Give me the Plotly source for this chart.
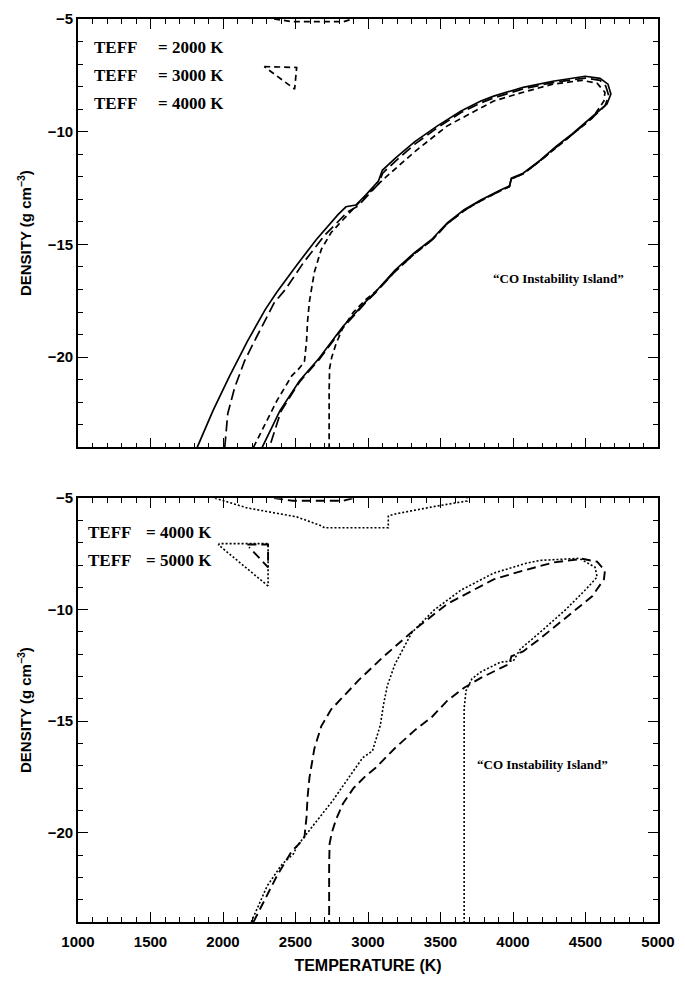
import plotly.graph_objects as go
from plotly.subplots import make_subplots

# ---------------- data (temperature K, log density g cm^-3) ----------------
T2000 = [1822,1931,2046,2168,2291,2372,2508,2644,2793,2848,2916,2984,3072,3099,3187,3323,3479,3642,3778,3867,4070,4274,4498,4600,4655,4675,4648,4546,4410,4295,4186,4070,3989,3975,3914,3778,3663,3547,3439,3323,3187,3051,2984,2827,2664,2528,2393,2270]
D2000 = [-24.0,-22.37,-20.83,-19.30,-17.89,-17.11,-15.92,-14.78,-13.68,-13.33,-13.25,-12.81,-12.19,-11.71,-11.18,-10.44,-9.74,-9.08,-8.64,-8.42,-8.03,-7.76,-7.54,-7.63,-7.89,-8.33,-8.77,-9.34,-10.09,-10.66,-11.27,-11.84,-12.06,-12.41,-12.59,-13.03,-13.46,-14.04,-14.78,-15.35,-16.14,-17.11,-17.54,-18.64,-20.04,-21.05,-22.37,-24.0]

T3000 = [2012,2020,2033,2080,2148,2216,2284,2352,2430,2556,2700,2861,2930,2990,3075,3100,3190,3323,3479,3642,3778,3867,4070,4274,4498,4600,4640,4660,4635,4546,4410,4295,4186,4070,3989,3975,3914,3778,3663,3547,3439,3323,3187,3051,2984,2827,2664,2528,2400,2320]
D3000 = [-24.0,-23.3,-22.5,-21.36,-20.18,-19.3,-18.42,-17.6,-17.0,-15.8,-14.6,-13.55,-13.3,-12.9,-12.3,-11.85,-11.3,-10.55,-9.82,-9.15,-8.72,-8.5,-8.1,-7.82,-7.62,-7.72,-7.98,-8.4,-8.85,-9.38,-10.12,-10.7,-11.3,-11.87,-12.09,-12.44,-12.62,-13.06,-13.5,-14.08,-14.82,-15.4,-16.2,-17.15,-17.58,-18.7,-20.1,-21.1,-22.4,-24.0]

T4000 = [2210,2270,2372,2474,2528,2562,2576,2583,2596,2630,2678,2746,2827,2936,3099,3323,3547,3731,3867,4070,4274,4478,4580,4634,4627,4546,4410,4295,4186,4070,3989,3975,3914,3778,3663,3547,3439,3323,3187,3051,2984,2900,2827,2780,2750,2735,2732,2732]
D4000 = [-24.0,-23.25,-21.93,-20.83,-20.48,-20.18,-19.3,-18.42,-17.54,-16.23,-15.22,-14.47,-13.9,-13.16,-12.15,-10.88,-9.74,-9.12,-8.64,-8.25,-7.89,-7.72,-7.85,-8.25,-8.64,-9.4,-10.12,-10.7,-11.3,-11.87,-12.09,-12.44,-12.62,-13.06,-13.5,-14.08,-14.82,-15.4,-16.2,-17.1,-17.45,-18.0,-18.7,-19.4,-20.0,-20.5,-21.5,-24.0]
T4000_top = [2352,2480,2830,2895]
D4000_top = [-5.0,-5.12,-5.12,-5.0]
T4000_tri = [2284,2508,2494,2284]
D4000_tri = [-7.11,-7.15,-8.11,-7.11]
# lower panel 4000 K small islands
T4000b_top = [2352,2480,2830,2895]
D4000b_top = [-5.0,-5.12,-5.12,-5.0]
T4000b_tri = [2168,2311,2311,2180]
D4000b_tri = [-7.08,-7.08,-8.1,-7.2]

T5000 = [2195,2304,2406,2488,2508,2644,2759,2868,2963,3031,3085,3106,3133,3187,3303,3459,3642,3867,4091,4186,4458,4566,4580,4498,4363,4186,4050,4002,3914,3778,3717,3676,3663,3663]
D5000 = [-24.0,-22.39,-21.42,-20.93,-20.62,-19.51,-18.54,-17.52,-16.64,-16.33,-15.18,-14.29,-13.41,-12.43,-11.02,-10.0,-9.12,-8.36,-7.92,-7.79,-7.70,-8.10,-8.54,-9.12,-10.0,-11.02,-11.77,-12.30,-12.35,-12.79,-13.10,-13.63,-14.42,-24.0]
T5000_top = [1944,2168,2508,2678,2700,3140,3140,3187,3479,3683,3683]
D5000_top = [-5.0,-5.44,-5.84,-6.24,-6.33,-6.33,-5.8,-5.71,-5.35,-5.13,-5.0]
T5000_tri = [2311,1970,1975,2311,2311]
D5000_tri = [-8.94,-7.1,-7.04,-7.04,-8.94]

legend_top = ["2000 K", "3000 K", "4000 K"]
legend_bot = ["4000 K", "5000 K"]
island_label = "\u201cCO Instability Island\u201d"

# ---------------- figure ----------------
fig = make_subplots(rows=2, cols=1, vertical_spacing=0.0)

def add(x, y, dash, width, row):
    fig.add_trace(go.Scatter(x=x, y=y, mode="lines",
                             line=dict(color="black", width=width, dash=dash),
                             showlegend=False, hoverinfo="skip"), row=row, col=1)

SOLID = "solid"
LONG = "11px,5px"
SHORT = "6px,4px"
MED = "9px,5px"
DOT = "2px,2px"

add(T2000, D2000, SOLID, 1.7, 1)
add(T3000, D3000, LONG, 1.7, 1)
add(T4000, D4000, SHORT, 1.7, 1)
add(T4000_top, D4000_top, SHORT, 1.7, 1)
add(T4000_tri, D4000_tri, SHORT, 1.7, 1)

add(T4000, D4000, MED, 1.9, 2)
add(T4000b_top, D4000b_top, MED, 1.9, 2)
add(T4000b_tri, D4000b_tri, MED, 1.9, 2)
add(T5000, D5000, DOT, 1.6, 2)
add(T5000_top, D5000_top, DOT, 1.6, 2)
add(T5000_tri, D5000_tri, DOT, 1.6, 2)

tickfont = dict(family="Liberation Sans, Arial", size=15, color="black", weight="bold")
titlefont = dict(family="Liberation Sans, Arial", size=15, color="black", weight="bold")
xtitlefont = dict(family="Liberation Sans, Arial", size=16, color="black", weight="bold")

xcommon = dict(range=[1000, 5000], tickvals=[1000,1500,2000,2500,3000,3500,4000,4500,5000],
               ticks="inside", ticklen=10, tickwidth=1.3, tickcolor="black",
               minor=dict(ticks="inside", dtick=100, ticklen=5, tickwidth=1.2, tickcolor="black"),
               showline=True, linecolor="black", linewidth=1.6, mirror="allticks",
               showgrid=False, zeroline=False, tickfont=tickfont, ticklabelstandoff=5)
ycommon = dict(range=[-24, -5], tickvals=[-5,-10,-15,-20],
               ticks="inside", ticklen=10, tickwidth=1.3, tickcolor="black",
               minor=dict(ticks="inside", dtick=1, ticklen=5, tickwidth=1.2, tickcolor="black"),
               showline=True, linecolor="black", linewidth=1.6, mirror="allticks",
               showgrid=False, zeroline=False, tickfont=tickfont,
               title=dict(text="DENSITY (g cm<sup>\u22123</sup>)", font=titlefont, standoff=12))

fig.update_xaxes(**xcommon)
fig.update_yaxes(**ycommon)
fig.update_xaxes(showticklabels=False, row=1, col=1)
fig.update_xaxes(title=dict(text="TEMPERATURE (K)", font=xtitlefont, standoff=11), row=2, col=1)

top_px, bot_px = 10, 925
H = bot_px - top_px
fig.update_layout(
    width=685, height=982,
    margin=dict(l=78, r=18, t=top_px, b=982 - bot_px),
    plot_bgcolor="white", paper_bgcolor="white",
    xaxis=dict(domain=[0, 1]), xaxis2=dict(domain=[0, 1]),
    yaxis=dict(domain=[(bot_px - 444) / H, 1.0]),
    yaxis2=dict(domain=[0.0, (bot_px - 495.5) / H]),
)

serif = dict(family="Liberation Serif, Times New Roman", size=17, color="black", weight="bold")
serif_small = dict(family="Liberation Serif, Times New Roman", size=13, color="black", weight="bold")

ann = []
ytop = [-6.27, -7.5, -8.73]
for lab, yy in zip(legend_top, ytop):
    ann.append(dict(x=1095, y=yy, xref="x", yref="y", text="TEFF", showarrow=False,
                    xanchor="left", yanchor="middle", font=serif))
    ann.append(dict(x=1537, y=yy, xref="x", yref="y", text="= " + lab, showarrow=False,
                    xanchor="left", yanchor="middle", font=serif))
ybot = [-6.55, -7.79]
for lab, yy in zip(legend_bot, ybot):
    ann.append(dict(x=1054, y=yy, xref="x2", yref="y2", text="TEFF", showarrow=False,
                    xanchor="left", yanchor="middle", font=serif))
    ann.append(dict(x=1455, y=yy, xref="x2", yref="y2", text="= " + lab, showarrow=False,
                    xanchor="left", yanchor="middle", font=serif))
ann.append(dict(x=3846, y=-16.5, xref="x", yref="y", text=island_label, showarrow=False,
                xanchor="left", yanchor="middle", font=serif_small))
ann.append(dict(x=3740, y=-16.95, xref="x2", yref="y2", text=island_label, showarrow=False,
                xanchor="left", yanchor="middle", font=serif_small))
fig.update_layout(annotations=ann)

fig.write_html("out.html")
